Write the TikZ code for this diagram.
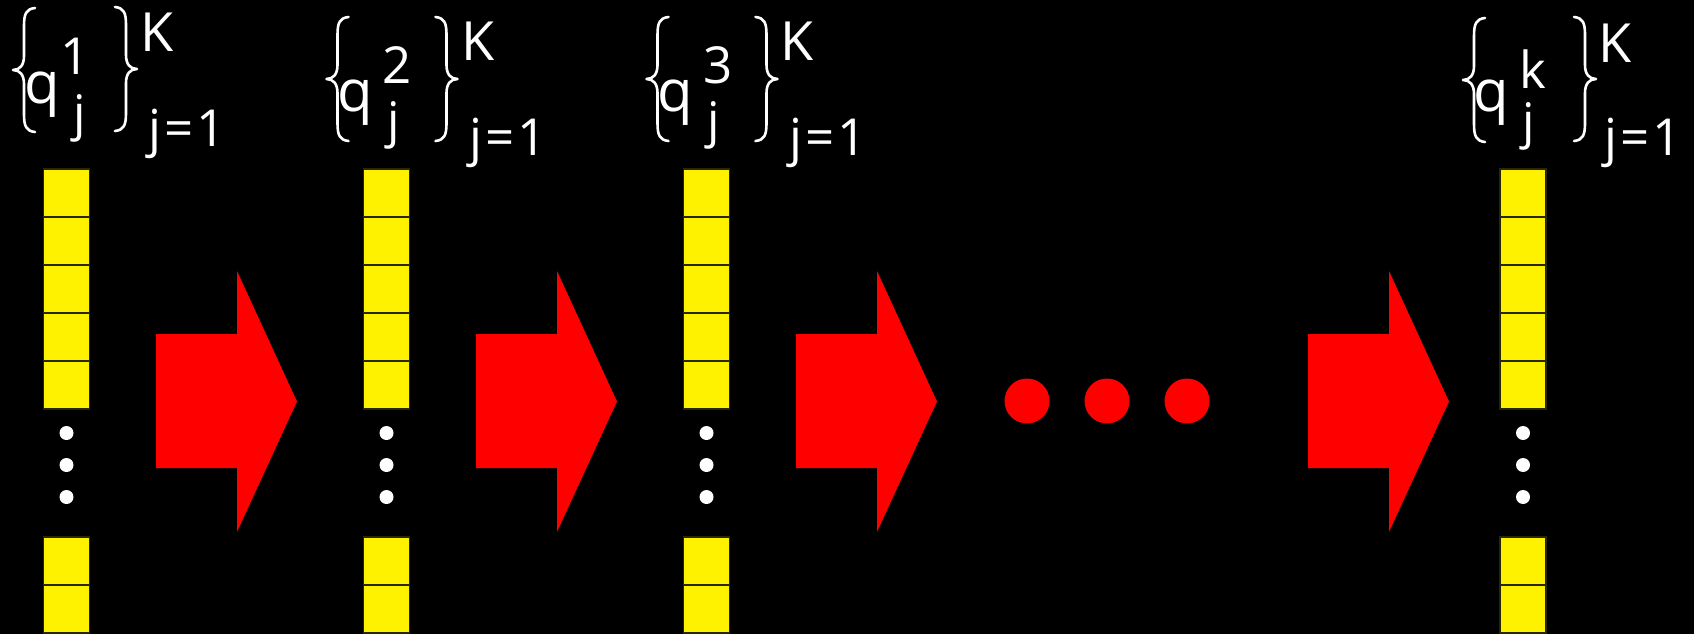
\documentclass[tikz,border=0pt]{standalone}
\usepackage{fontspec}
\newfontfamily\labfont{Open Sans}
\begin{document}
\begin{tikzpicture}[x=1pt,y=-1pt,
  cell/.style={draw={rgb,255:red,40;green,40;blue,0},line width=1.5pt,fill=yellow,minimum width=46pt,minimum height=48pt,inner sep=0pt,outer sep=0pt},
  wdot/.style={circle,fill=white,inner sep=0pt,minimum size=14pt},
  rdot/.style={circle,fill=red,inner sep=0pt,minimum size=45pt},
  lab/.style={text=white,inner sep=0pt,outer sep=0pt},
  qsym/.style={lab,font=\labfont\fontsize{58}{58}\selectfont},
  supsym/.style={lab,font=\labfont\fontsize{51}{51}\selectfont},
  subsym/.style={lab,font=\labfont\fontsize{49}{49}\selectfont},
  bigk/.style={lab,font=\labfont\fontsize{54}{54}\selectfont},
  rangelab/.style={lab,font=\labfont\fontsize{51}{51}\selectfont},
  bracepath/.style={draw=white,line width=2.6pt,line cap=round,line join=round},
  lbr/.pic={\path[bracepath] (11,-62) .. controls (2,-61) and (0,-56) .. (0,-44)
      -- (0,-14) .. controls (0,-5) and (-4,0) .. (-11,0)
      .. controls (-4,0) and (0,5) .. (0,14) -- (0,44)
      .. controls (0,56) and (2,61) .. (11,62);},
  rbr/.pic={\path[bracepath] (-11,-62) .. controls (-2,-61) and (0,-56) .. (0,-44)
      -- (0,-14) .. controls (0,-5) and (4,0) .. (11,0)
      .. controls (4,0) and (0,5) .. (0,14) -- (0,44)
      .. controls (0,56) and (-2,61) .. (-11,62);},
  bigarrow/.style={fill=red}]
\fill[black] (0,0) rectangle (1694,634);
\useasboundingbox (0,0) rectangle (1694,634);
% columns of cells
\foreach \cx/\n in {66.5/1,386.5/2,706.5/3,1523/4}{
  \foreach \i/\cy in {1/193,2/241,3/289,4/337,5/385,6/561,7/609}
    \node[cell] (c\n-\i) at (\cx,\cy) {};
  \foreach \i/\cy in {1/433,2/465,3/497}
    \node[wdot] (d\n-\i) at (\cx,\cy) {};
}
% big arrows
\foreach \ax in {156,476,796,1308}
  \fill[bigarrow] (\ax,334) -- ({\ax+81},334) -- ({\ax+81},271) -- ({\ax+141},401.5)
     -- ({\ax+81},532) -- ({\ax+81},468) -- (\ax,468) -- cycle;
% ellipsis dots
\node[rdot] (e1) at (1027,401) {};
\node[rdot] (e2) at (1107,401) {};
\node[rdot] (e3) at (1187,401) {};
% label 1
\pic (lb1) at (24,70) {lbr};
\node[qsym] (q1) at (42.5,95) {q};
\node[supsym] (s1) at (75.5,56.5) {1};
\node[subsym] (j1) at (79.5,118.5) {j};
\pic (rb1) at (126,69) {rbr};
\node[bigk] (k1) at (157,32) {K};
\node[rangelab] (r1) at (187,134) {j\hspace{3pt}=\hspace{3pt}1};
% label 2
\pic (lb2) at (337.5,79) {lbr};
\node[qsym] (q2) at (355,103) {q};
\node[supsym] (s2) at (397,65) {2};
\node[subsym] (j2) at (393.5,125) {j};
\pic (rb2) at (446.5,79) {rbr};
\node[bigk] (k2) at (478.5,41) {K};
\node[rangelab] (r2) at (508.5,142.5) {j\hspace{3pt}=\hspace{3pt}1};
% label 3
\pic (lb3) at (657.5,79) {lbr};
\node[qsym] (q3) at (675,103) {q};
\node[supsym] (s3) at (718,65) {3};
\node[subsym] (j3) at (713.5,125) {j};
\pic (rb3) at (766.5,79) {rbr};
\node[bigk] (k3) at (797.5,41) {K};
\node[rangelab] (r3) at (828.5,142.5) {j\hspace{3pt}=\hspace{3pt}1};
% label 4
\pic (lb4) at (1474,80) {lbr};
\node[qsym] (q4) at (1491.5,103) {q};
\node[supsym] (s4) at (1532.5,69) {k};
\node[subsym] (j4) at (1528.5,126) {j};
\pic (rb4) at (1585,79) {rbr};
\node[bigk] (k4) at (1615,43.5) {K};
\node[rangelab] (r4) at (1643,142.5) {j\hspace{3pt}=\hspace{3pt}1};
\end{tikzpicture}
\end{document}
